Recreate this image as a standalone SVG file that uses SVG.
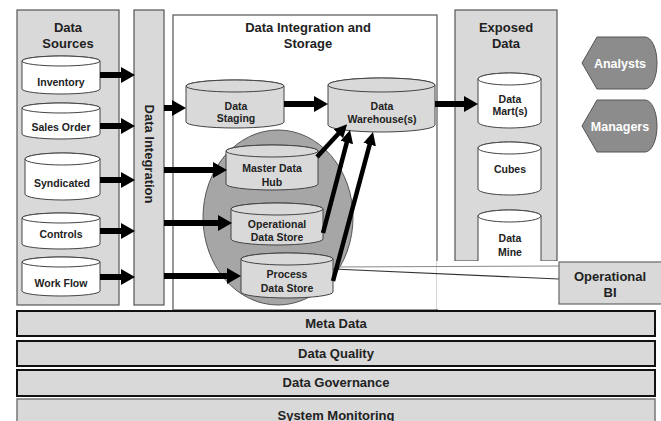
<svg xmlns="http://www.w3.org/2000/svg" width="661" height="421" viewBox="0 0 661 421">
<defs>
<marker id="ah" markerUnits="userSpaceOnUse" markerWidth="14" markerHeight="16" viewBox="0 0 14 16" refX="1" refY="8" orient="auto"><path d="M0,0 L14,8 L0,16 Z" fill="#000"/></marker>
<marker id="ah2" markerUnits="userSpaceOnUse" markerWidth="13" markerHeight="13" viewBox="0 0 13 13" refX="1" refY="6.5" orient="auto"><path d="M0,0 L13,6.5 L0,13 Z" fill="#000"/></marker>
</defs>
<style>
text{font-family:"Liberation Sans",Arial,sans-serif;font-weight:bold;fill:#222;text-anchor:middle}
.t13{font-size:13px}
.t11{font-size:10.5px}
.panel{fill:#d9d9d9;stroke:#555;stroke-width:1.2}
.cw{fill:#fff;stroke:#444;stroke-width:1}
.cg{fill:#d9d9d9;stroke:#444;stroke-width:1}
.arr{stroke:#000;stroke-width:6;fill:none;marker-end:url(#ah)}
.arr2{stroke:#000;stroke-width:4.5;fill:none;marker-end:url(#ah2)}
.bar{fill:#d9d9d9;stroke:#111;stroke-width:2}
.hex{fill:#8c8c8c;stroke:#555;stroke-width:1}
.wt{fill:#fff;font-size:12.5px}
</style>
<rect width="661" height="421" fill="#fff"/>

<g id="storage">
<rect x="173" y="15" width="264" height="295" fill="#fff" stroke="#555" stroke-width="1.2"/>
<text class="t13" x="308" y="32">Data Integration and</text>
<text class="t13" x="308" y="48">Storage</text>
</g>

<g id="data-sources">
<rect class="panel" x="17" y="10" width="102" height="295"/>
<text class="t13" x="68" y="32">Data</text>
<text class="t13" x="68" y="48">Sources</text>
</g>

<g id="data-integration">
<rect class="panel" x="134" y="10" width="30" height="295"/>
<text class="t13" transform="translate(149,154) rotate(90)" x="0" y="4.5">Data Integration</text>
</g>

<g id="exposed-data">
<rect class="panel" x="455" y="10" width="102" height="251"/>
<text class="t13" x="506" y="32">Exposed</text>
<text class="t13" x="506" y="48">Data</text>
</g>

<g id="inventory">
<path class="cw" d="M22,61 A39,5 0 0 1 100,61 L100,89 A39,5 0 0 1 22,89 Z"/>
<ellipse class="cw" cx="61" cy="61" rx="39" ry="5"/>
<text class="t11" x="61" y="85.5">Inventory</text>
</g>
<g id="sales-order">
<path class="cw" d="M22,108 A39,5 0 0 1 100,108 L100,134 A39,5 0 0 1 22,134 Z"/>
<ellipse class="cw" cx="61" cy="108" rx="39" ry="5"/>
<text class="t11" x="61" y="131">Sales Order</text>
</g>
<g id="syndicated">
<path class="cw" d="M25,159 A37.5,6 0 0 1 100,159 L100,194 A37.5,6 0 0 1 25,194 Z"/>
<ellipse class="cw" cx="62.5" cy="159" rx="37.5" ry="6"/>
<text class="t11" x="62" y="187">Syndicated</text>
</g>
<g id="controls">
<path class="cw" d="M22,218 A39,5 0 0 1 100,218 L100,244 A39,5 0 0 1 22,244 Z"/>
<ellipse class="cw" cx="61" cy="218" rx="39" ry="5"/>
<text class="t11" x="61" y="238">Controls</text>
</g>
<g id="work-flow">
<path class="cw" d="M22,262 A39,5 0 0 1 100,262 L100,291 A39,5 0 0 1 22,291 Z"/>
<ellipse class="cw" cx="61" cy="262" rx="39" ry="5"/>
<text class="t11" x="61" y="287">Work Flow</text>
</g>

<g id="data-staging">
<path class="cg" d="M186,86 A49,6 0 0 1 284,86 L284,122 A49,6 0 0 1 186,122 Z"/>
<ellipse class="cg" cx="235" cy="86" rx="49" ry="6"/>
<text class="t11" x="236" y="110">Data</text>
<text class="t11" x="236" y="122">Staging</text>
</g>
<g id="data-warehouse">
<path class="cg" d="M328,85 A53.5,7 0 0 1 435,85 L435,125 A53.5,7 0 0 1 328,125 Z"/>
<ellipse class="cg" cx="381.5" cy="85" rx="53.5" ry="7"/>
<text class="t11" x="382" y="110">Data</text>
<text class="t11" x="382" y="123">Warehouse(s)</text>
</g>

<g id="hub-group">
<ellipse cx="278" cy="217.5" rx="75" ry="87.5" fill="#a6a6a6" stroke="#555" stroke-width="1"/>
</g>
<g id="master-data-hub">
<path class="cg" d="M226,151 A46,6 0 0 1 318,151 L318,184 A46,6 0 0 1 226,184 Z"/>
<ellipse class="cg" cx="272" cy="151" rx="46" ry="6"/>
<text class="t11" x="272" y="172">Master Data</text>
<text class="t11" x="272" y="186">Hub</text>
</g>
<g id="operational-data-store">
<path class="cg" d="M231,209 A46,6 0 0 1 323,209 L323,239 A46,6 0 0 1 231,239 Z"/>
<ellipse class="cg" cx="277" cy="209" rx="46" ry="6"/>
<text class="t11" x="277" y="228">Operational</text>
<text class="t11" x="277" y="241">Data Store</text>
</g>
<g id="process-data-store">
<path class="cg" d="M241,259 A46,6 0 0 1 333,259 L333,292 A46,6 0 0 1 241,292 Z"/>
<ellipse class="cg" cx="287" cy="259" rx="46" ry="6"/>
<text class="t11" x="287" y="278">Process</text>
<text class="t11" x="287" y="292">Data Store</text>
</g>

<g id="data-marts">
<path class="cw" d="M478,79 A31.5,6 0 0 1 541,79 L541,122 A31.5,6 0 0 1 478,122 Z"/>
<ellipse class="cw" cx="509.5" cy="79" rx="31.5" ry="6"/>
<text class="t11" x="510" y="103">Data</text>
<text class="t11" x="510" y="115">Mart(s)</text>
</g>
<g id="cubes">
<path class="cw" d="M478,148 A31.5,6 0 0 1 541,148 L541,189 A31.5,6 0 0 1 478,189 Z"/>
<ellipse class="cw" cx="509.5" cy="148" rx="31.5" ry="6"/>
<text class="t11" x="510" y="173">Cubes</text>
</g>
<g id="data-mine">
<path class="cw" d="M478,216 A31.5,6 0 0 1 541,216 L541,262 A31.5,6 0 0 1 478,262 Z"/>
<ellipse class="cw" cx="509.5" cy="216" rx="31.5" ry="6"/>
<text class="t11" x="510" y="242">Data</text>
<text class="t11" x="510" y="256">Mine</text>
</g>

<g id="callout">
<rect x="436.4" y="261" width="122.6" height="48" fill="#fff"/>
<path d="M333,267 L559,266" stroke="#888" stroke-width="1" fill="none"/>
<path d="M333,269 L559,279" stroke="#333" stroke-width="1.2" fill="none"/>
</g>

<g id="operational-bi">
<rect x="559" y="262" width="110" height="42" fill="#d9d9d9" stroke="#666" stroke-width="1.2"/>
<text class="t13" x="610" y="281">Operational</text>
<text class="t13" x="610" y="297">BI</text>
</g>

<g id="connectors">
<line class="arr" x1="100" y1="75" x2="122" y2="75"/>
<line class="arr" x1="100" y1="126" x2="122" y2="126"/>
<line class="arr" x1="100" y1="180" x2="122" y2="180"/>
<line class="arr" x1="100" y1="231" x2="122" y2="231"/>
<line class="arr" x1="100" y1="277" x2="122" y2="277"/>
<line class="arr" x1="164" y1="108" x2="173" y2="108"/>
<line class="arr" x1="164" y1="170" x2="214" y2="170"/>
<line class="arr" x1="164" y1="223" x2="219" y2="223"/>
<line class="arr" x1="164" y1="276" x2="228" y2="276"/>
<line class="arr" x1="284" y1="104" x2="315" y2="104"/>
<line class="arr" x1="435" y1="104" x2="465" y2="104"/>
<line class="arr2" x1="317" y1="157" x2="339" y2="133"/>
<line class="arr2" x1="323" y1="233" x2="347" y2="141.6"/>
<line class="arr2" x1="333" y1="281" x2="369.9" y2="143.6"/>
</g>

<g id="meta-data">
<rect class="bar" x="17" y="311" width="638" height="25"/>
<text class="t13" x="336" y="327.5">Meta Data</text>
</g>
<g id="data-quality">
<rect class="bar" x="17" y="341" width="638" height="25"/>
<text class="t13" x="336" y="357.5">Data Quality</text>
</g>
<g id="data-governance">
<rect class="bar" x="17" y="370" width="638" height="26"/>
<text class="t13" x="336" y="386.5">Data Governance</text>
</g>
<g id="system-monitoring">
<rect x="17" y="399" width="638" height="30" fill="#d9d9d9" stroke="#777" stroke-width="1.5"/>
<text class="t13" x="336" y="419.5">System Monitoring</text>
</g>

<g id="analysts">
<path class="hex" d="M582,63 L597,37 L645,37 A12,26 0 0 1 645,89 L597,89 Z"/>
<text class="wt" x="620" y="67.5">Analysts</text>
</g>
<g id="managers">
<path class="hex" d="M582,126 L597,100 L645,100 A12,26 0 0 1 645,152 L597,152 Z"/>
<text class="wt" x="620" y="130.5">Managers</text>
</g>
</svg>
